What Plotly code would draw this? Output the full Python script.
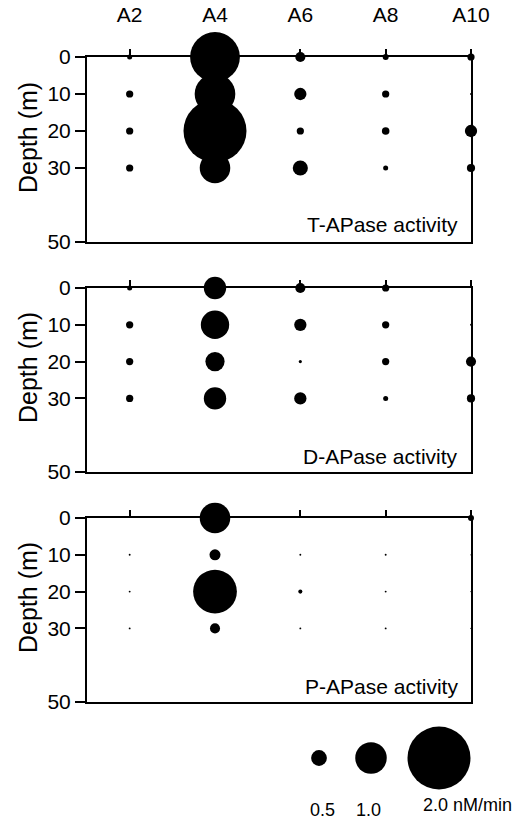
import plotly.graph_objects as go

stations = ["A2", "A4", "A6", "A8", "A10"]
depths = [0, 10, 20, 30]
depth_ticks = [0, 10, 20, 30, 50]

# activity (nM/min) per station, ordered by depth 0,10,20,30
t_apase = {
    "A2": [0.16, 0.23, 0.23, 0.23],
    "A4": [1.58, 1.29, 2.0, 0.97],
    "A6": [0.32, 0.39, 0.23, 0.48],
    "A8": [0.19, 0.23, 0.24, 0.16],
    "A10": [0.23, 0.06, 0.39, 0.26],
}
d_apase = {
    "A2": [0.16, 0.23, 0.23, 0.23],
    "A4": [0.71, 0.90, 0.61, 0.71],
    "A6": [0.32, 0.39, 0.10, 0.39],
    "A8": [0.23, 0.23, 0.23, 0.16],
    "A10": [0.0, 0.06, 0.32, 0.26],
}
p_apase = {
    "A2": [0.0, 0.06, 0.06, 0.06],
    "A4": [0.97, 0.35, 1.39, 0.32],
    "A6": [0.0, 0.06, 0.13, 0.06],
    "A8": [0.0, 0.06, 0.06, 0.06],
    "A10": [0.19, 0.04, 0.04, 0.04],
}
panel_titles = ["T-APase activity", "D-APase activity", "P-APase activity"]
legend_values = [0.5, 1.0, 2.0]
legend_labels = ["0.5", "1.0", "2.0 nM/min"]

PX_PER_UNIT = 31.5  # marker diameter (px) for 1 nM/min
FONT = "Liberation Sans, Arial, sans-serif"
W, H = 518, 820

fig = go.Figure()

x_left, x_right = 87, 471
panels_px = [(57, 242), (288, 472), (518, 702)]
title_y_px = [224, 456, 686]
depth_title_y_px = [138, 368, 598]

for i, data in enumerate([t_apase, d_apase, p_apase]):
    xs, ys, vs = [], [], []
    for s in stations:
        for d, v in zip(depths, data[s]):
            xs.append(s)
            ys.append(d)
            vs.append(v)
    ax = "" if i == 0 else str(i + 1)
    fig.add_trace(go.Scatter(
        x=xs, y=ys, mode="markers",
        marker=dict(size=vs, sizemode="diameter", sizeref=1 / PX_PER_UNIT,
                    color="black", opacity=1, line=dict(width=0)),
        cliponaxis=False, showlegend=False, hoverinfo="skip",
        xaxis="x" + ax, yaxis="y" + ax,
    ))
    top, bot = panels_px[i]
    fig.layout["xaxis" + ax] = dict(
        domain=[x_left / W, x_right / W], anchor="y" + ax, side="top",
        type="category", categoryorder="array", categoryarray=stations,
        range=[-0.5, 4], showline=True, linecolor="black", linewidth=2,
        mirror=True, ticks="outside", ticklen=6, tickwidth=1.5, tickcolor="black",
        showgrid=False, zeroline=False, showticklabels=(i == 0),
        ticklabelstandoff=19, automargin=False,
        tickfont=dict(family=FONT, size=21, color="black"),
    )
    fig.layout["yaxis" + ax] = dict(
        domain=[1 - bot / H, 1 - top / H], anchor="x" + ax,
        range=[50, 0], tickvals=depth_ticks, showline=True, linecolor="black",
        linewidth=2, mirror=True, ticks="outside", ticklen=10, tickwidth=1.5,
        tickcolor="black", showgrid=False, zeroline=False, automargin=False,
        tickfont=dict(family=FONT, size=21, color="black"),
    )
    fig.add_annotation(text=panel_titles[i], xref="paper", yref="paper",
                       x=460 / W, y=1 - title_y_px[i] / H, xanchor="right",
                       yanchor="middle", showarrow=False,
                       font=dict(family=FONT, size=21, color="black"))
    fig.add_annotation(text="Depth (m)", xref="paper", yref="paper",
                       x=28 / W, y=1 - depth_title_y_px[i] / H, textangle=-90,
                       xanchor="center", yanchor="middle", showarrow=False,
                       font=dict(family=FONT, size=25, color="black"))

# size legend on a hidden axis pair
legend_x = [319, 371, 439]
fig.add_trace(go.Scatter(
    x=legend_x, y=[0] * 3, mode="markers",
    marker=dict(size=legend_values, sizemode="diameter", sizeref=1 / PX_PER_UNIT,
                color="black", opacity=1, line=dict(width=0)),
    cliponaxis=False, showlegend=False, hoverinfo="skip",
    xaxis="x4", yaxis="y4",
))
fig.layout["xaxis4"] = dict(domain=[0, 1], range=[0, W], visible=False,
                            anchor="y4", automargin=False)
fig.layout["yaxis4"] = dict(domain=[1 - 790 / H, 1 - 726 / H], range=[-1, 1],
                            visible=False, anchor="x4", automargin=False)
legend_label_x = [322, 368, 421]
legend_label_y = [810, 810, 805]
for lx, ly, lab, anchor in zip(legend_label_x, legend_label_y, legend_labels,
                               ["center", "center", "left"]):
    fig.add_annotation(text=lab, xref="paper", yref="paper", x=lx / W,
                       y=1 - ly / H, xanchor=anchor, yanchor="middle",
                       showarrow=False, font=dict(family=FONT, size=18, color="black"))

fig.update_layout(width=W, height=H, margin=dict(l=0, r=0, t=0, b=0, autoexpand=False),
                  plot_bgcolor="white", paper_bgcolor="white")
fig.write_html("out.html")
